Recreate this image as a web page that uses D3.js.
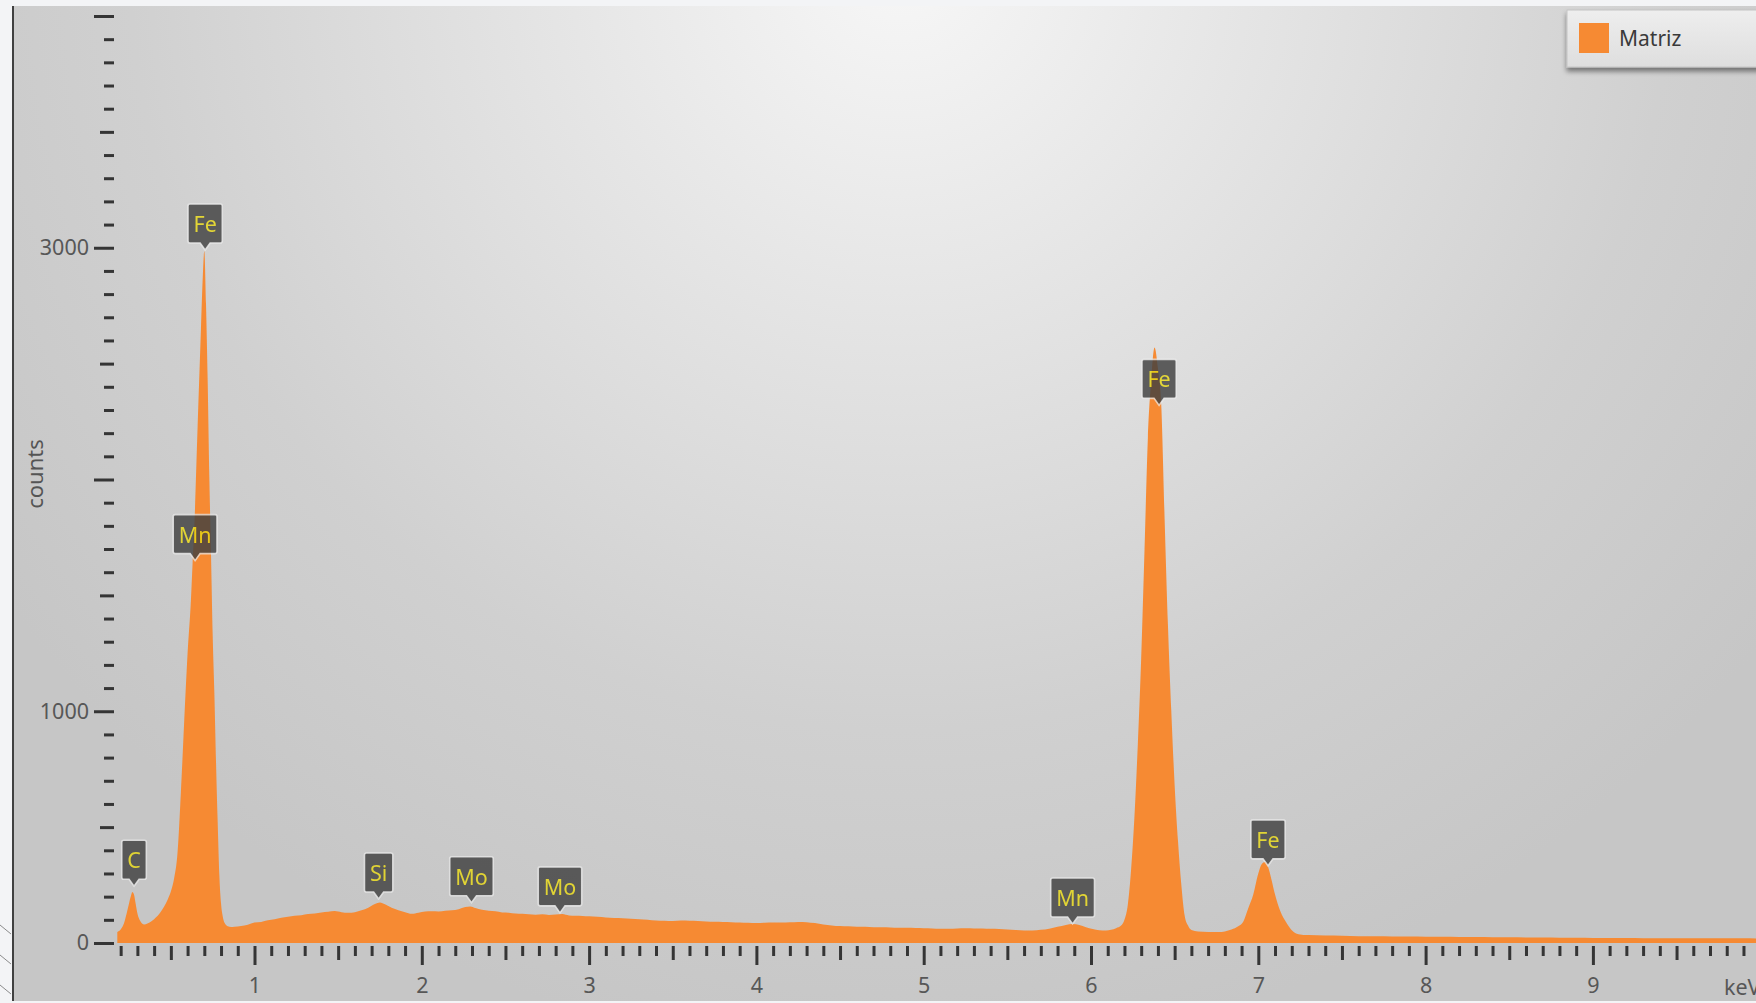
<!DOCTYPE html>
<html><head><meta charset="utf-8">
<script src="https://cdn.jsdelivr.net/npm/d3@7"></script>
<style>
html,body{margin:0;padding:0;background:#f3f4f6;overflow:hidden}
svg{display:block}
text{font-family:"Noto Sans","Open Sans",sans-serif}
</style></head><body>
<svg id="chart" width="1756" height="1003"></svg>
<script>
// ---- data ----
const energyKeV = [0.18,0.20,0.22,0.24,0.26,0.27,0.28,0.29,0.30,0.32,0.34,0.36,0.38,0.40,0.42,0.44,0.46,0.48,0.50,0.52,0.54,0.56,0.58,0.60,0.62,0.63,0.64,0.66,0.68,0.69,0.70,0.71,0.72,0.73,0.74,0.75,0.76,0.77,0.78,0.79,0.80,0.81,0.82,0.84,0.86,0.88,0.92,0.96,1.00,1.04,1.08,1.12,1.16,1.20,1.24,1.28,1.32,1.36,1.40,1.44,1.48,1.52,1.56,1.60,1.64,1.68,1.72,1.75,1.78,1.82,1.86,1.90,1.94,1.98,2.02,2.06,2.10,2.14,2.18,2.22,2.26,2.29,2.32,2.36,2.40,2.44,2.48,2.52,2.56,2.60,2.64,2.68,2.72,2.76,2.80,2.84,2.88,2.92,2.96,3.00,3.05,3.10,3.15,3.20,3.25,3.30,3.35,3.40,3.45,3.50,3.55,3.60,3.65,3.70,3.75,3.80,3.85,3.90,3.95,4.00,4.05,4.10,4.15,4.20,4.25,4.30,4.35,4.40,4.45,4.50,4.55,4.60,4.65,4.70,4.75,4.80,4.85,4.90,4.95,5.00,5.05,5.10,5.15,5.20,5.25,5.30,5.35,5.40,5.45,5.50,5.55,5.60,5.65,5.70,5.75,5.80,5.85,5.89,5.93,5.97,6.01,6.05,6.09,6.12,6.15,6.18,6.20,6.22,6.24,6.26,6.28,6.30,6.32,6.34,6.36,6.38,6.40,6.42,6.44,6.46,6.48,6.50,6.52,6.54,6.56,6.58,6.60,6.64,6.70,6.76,6.80,6.84,6.88,6.91,6.94,6.97,7.00,7.02,7.04,7.06,7.08,7.10,7.13,7.17,7.20,7.24,7.30,7.40,7.50,7.60,7.70,7.80,7.90,8.00,8.10,8.20,8.30,8.40,8.50,8.60,8.70,8.80,8.90,9.00,9.10,9.20,9.30,9.40,9.50,9.60,9.70,9.80,9.90,10.00];
const counts = [48,58,85,140,200,220,208,168,128,92,80,84,92,103,116,135,158,186,222,280,390,650,960,1250,1480,1640,1790,2230,2650,2860,2985,2760,2430,2010,1680,1330,1080,780,520,290,170,115,88,72,69,70,73,79,88,91,98,103,109,113,118,120,125,127,132,135,138,133,130,133,141,152,168,175,167,152,141,133,126,131,136,137,136,139,141,146,155,158,151,143,139,137,132,131,127,126,124,122,124,121,123,125,119,118,117,115,113,110,108,107,105,103,100,97,96,95,97,96,95,93,92,91,90,88,87,86,87,88,88,89,91,90,86,80,76,73,72,70,70,68,68,67,66,66,65,64,63,62,62,63,64,63,63,61,60,58,56,54,54,57,62,70,78,82,78,68,60,55,54,57,64,75,100,165,320,550,860,1230,1700,2180,2430,2570,2480,2320,1830,1370,1000,680,440,250,118,75,56,50,48,47,50,58,72,92,150,209,300,340,350,325,270,209,140,85,55,38,34,32,31,29,29,28,28,27,27,26,26,25,25,24,24,23,23,22,22,22,21,21,21,20,20,20,20,19];

const peakLabels = ["C","Mn","Fe","Si","Mo","Mo","Mn","Fe","Fe"];
const peakKeV    = [0.28,0.645,0.705,1.742,2.297,2.826,5.89,6.407,7.058];
const peakTip    = [245,1650,2990,190,174,130,82,2320,333];

const yTickLabels = [0,1000,3000];
const xTickLabels = [1,2,3,4,5,6,7,8,9];
const xUnit = "keV";
const yTitle = "counts";
const seriesName = "Matriz";
const seriesColor = "#f68a33";

// ---- drawing ----
const svg = d3.select("#chart");
const W = 1756, H = 1003;
const x = d3.scaleLinear().domain([0, 10]).range([87.2, 1760.2]);
const y = d3.scaleLinear().domain([0, 4000]).range([943, 16]);

const defs = svg.append("defs");
const bg = defs.append("radialGradient").attr("id","bg")
  .attr("gradientUnits","userSpaceOnUse").attr("cx",900).attr("cy",-40).attr("r",1100);
[[0,"#f7f7f7"],[0.3,"#e6e6e6"],[0.7,"#d0d0d0"],[1,"#c6c6c6"]].forEach(s=>
  bg.append("stop").attr("offset",s[0]).attr("stop-color",s[1]));
const lg = defs.append("linearGradient").attr("id","leg").attr("x1",0).attr("y1",0).attr("x2",0).attr("y2",1);
lg.append("stop").attr("offset",0).attr("stop-color","#eeeeee");
lg.append("stop").attr("offset",1).attr("stop-color","#dedede");
const f = defs.append("filter").attr("id","shadow").attr("x","-20%").attr("y","-30%").attr("width","140%").attr("height","180%");
f.append("feDropShadow").attr("dx",0).attr("dy",4).attr("stdDeviation",2.5).attr("flood-color","#000").attr("flood-opacity",0.45);

// panel
svg.append("rect").attr("x",12).attr("y",6).attr("width",W-12).attr("height",995).attr("fill","url(#bg)");
svg.append("line").attr("x1",13).attr("x2",13).attr("y1",6).attr("y2",1001).attr("stroke","#404040").attr("stroke-width",2);
[925,955,985].forEach(v=>svg.append("line").attr("x1",0).attr("y1",v).attr("x2",11).attr("y2",v+9)
  .attr("stroke","#8a8a8a").attr("stroke-width",1));

// area
const area = d3.area().curve(d3.curveMonotoneX)
  .x((d,i)=>x(energyKeV[i])).y0(y(0)).y1((d,i)=>y(counts[i]));
svg.append("path").datum(counts).attr("d",area).attr("fill",seriesColor);

// y axis
const yAll = y.ticks(40);
const yMajor = yAll.filter(d=>d%1000===0);
const yMed = yAll.filter(d=>d%500===0 && d%1000!==0);
const yMin = yAll.filter(d=>d%500!==0);
function drawY(vals,size,lab){
  const ax = d3.axisLeft(y).tickValues(vals).tickSize(size).tickPadding(5)
    .tickFormat(d=> lab && yTickLabels.includes(d) ? d3.format("d")(d) : "");
  const g = svg.append("g").attr("transform","translate(114,0)").call(ax);
  g.select(".domain").remove();
  g.selectAll("line").attr("stroke","#353535").attr("stroke-width",3);
  g.selectAll("text").attr("fill","#575757").attr("font-size",21.5)
    .style("font-family",'"Noto Sans","Open Sans",sans-serif');
}
drawY(yMin,10,false); drawY(yMed,14,false); drawY(yMajor,20,true);

// x axis
const xAll = x.ticks(100).filter(d=>d>=0.199);
const xMajor = xAll.filter(d=>Math.round(d*10)%10===0);
const xMed = xAll.filter(d=>Math.round(d*10)%5===0 && Math.round(d*10)%10!==0);
const xMin = xAll.filter(d=>Math.round(d*10)%5!==0);
function drawX(vals,size,lab){
  const ax = d3.axisBottom(x).tickValues(vals).tickSize(size).tickPadding(lab?13:0)
    .tickFormat(d=> lab && xTickLabels.includes(Math.round(d)) ? d3.format("d")(d) : "");
  const g = svg.append("g").attr("transform","translate(0,946)").call(ax);
  g.select(".domain").remove();
  g.selectAll("line").attr("stroke","#353535").attr("stroke-width",3);
  g.selectAll("text").attr("fill","#575757").attr("font-size",21.5)
    .style("font-family",'"Noto Sans","Open Sans",sans-serif');
}
drawX(xMin,10,false); drawX(xMed,14,false); drawX(xMajor,19,true);

svg.append("text").text(xUnit).attr("x",1724).attr("y",986).attr("dominant-baseline","central")
  .attr("font-size",21.5).attr("fill","#575757");
svg.append("text").text(yTitle).attr("transform","translate(34,474) rotate(-90)")
  .attr("text-anchor","middle").attr("dominant-baseline","central")
  .attr("font-size",22).attr("fill","#555");

// peak labels
const lblG = svg.append("g").attr("opacity",0.82);
peakLabels.forEach((t,i)=>{
  const tx = x(peakKeV[i]), ty = y(peakTip[i]);
  const g = lblG.append("g").attr("transform",`translate(${tx},${ty})`);
  const txt = g.append("text").text(t).attr("font-size",21.5).attr("fill","#e6d614")
    .attr("text-anchor","middle").attr("dominant-baseline","central");
  const w = txt.node().getComputedTextLength() + 11;
  const h = 39, pH = 7;
  const path = `M${-w/2+2},${-pH-h} H${w/2-2} Q${w/2},${-pH-h} ${w/2},${-pH-h+2} V${-pH-2} Q${w/2},${-pH} ${w/2-2},${-pH} H5 L0,0 L-5,${-pH} H${-w/2+2} Q${-w/2},${-pH} ${-w/2},${-pH-2} V${-pH-h+2} Q${-w/2},${-pH-h} ${-w/2+2},${-pH-h} Z`;
  g.insert("path","text").attr("d",path).attr("fill","#404040")
    .attr("stroke","#eeeeee").attr("stroke-opacity",0.85).attr("stroke-width",1.6);
  txt.attr("y",-pH-h/2);
});

// legend
const leg = svg.append("g");
leg.append("rect").attr("x",1567).attr("y",10).attr("width",220).attr("height",57)
  .attr("fill","url(#leg)").attr("stroke","#c4c4c4").attr("stroke-width",1).attr("filter","url(#shadow)");
leg.append("rect").attr("x",1579).attr("y",23).attr("width",30).attr("height",30).attr("fill",seriesColor);
leg.append("text").text(seriesName).attr("x",1619).attr("y",38).attr("dominant-baseline","central")
  .attr("font-size",21).attr("fill","#3a3a3a");
</script>
</body></html>
